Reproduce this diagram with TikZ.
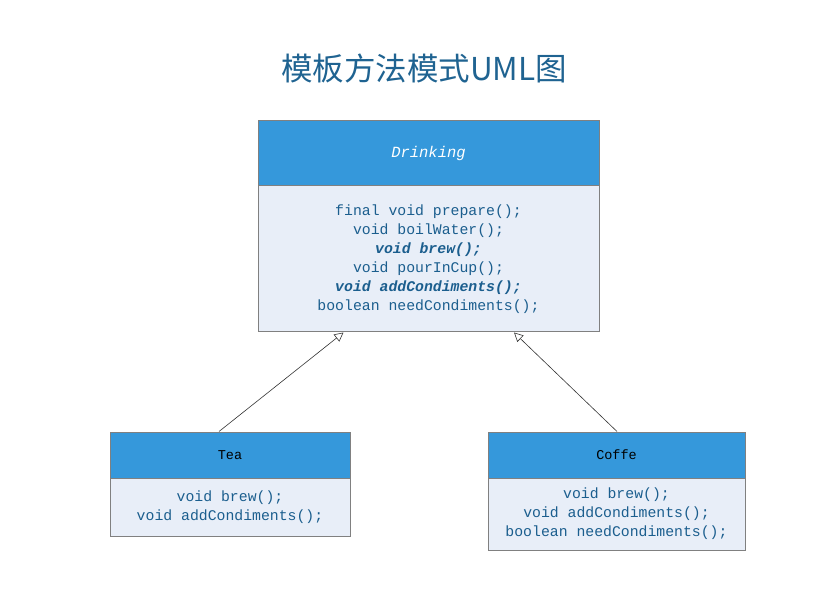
\documentclass[tikz,border=0pt]{standalone}
\usepackage{fontspec}
\setmonofont{Liberation Mono}
\newfontfamily\cjk{Noto Sans CJK SC}
\usetikzlibrary{arrows.meta}
\definecolor{headblue}{HTML}{3598DB}
\definecolor{bodyblue}{HTML}{E8EEF8}
\definecolor{textblue}{HTML}{1B5E8E}
\definecolor{titleblue}{HTML}{1F6391}
\definecolor{edge}{HTML}{808080}
\tikzset{
  classhead/.style={draw=edge, line width=1pt, fill=headblue, inner sep=0pt,
    font=\ttfamily\fontsize{13.5}{15}\selectfont},
  classbody/.style={draw=edge, line width=1pt, fill=bodyblue, inner sep=0pt, align=center,
    text=textblue, font=\ttfamily\fontsize{14.8}{19}\selectfont},
  inherit/.style={draw=black!80, line width=0.6pt, -{Triangle[open,length=9pt,width=9pt]}},
}
\newcommand{\abstr}[1]{\textbf{\textit{#1}}}
\begin{document}
\begin{tikzpicture}[x=1pt,y=1pt]
\useasboundingbox (0,0) rectangle (835,-593);
\node[text=titleblue, font=\cjk\fontsize{31.5}{34}\selectfont] (title) at (424,-68) {模板方法模式UML图};
\node[classhead, minimum width=341pt, minimum height=65pt, text=white, font=\ttfamily\fontsize{15.5}{17}\selectfont] (drinkhead) at (428.5,-153.5) {\textit{Drinking}};
\node[classbody, minimum width=341pt, minimum height=146pt] (drinkbody) at (428.5,-259) {final void prepare();\\void boilWater();\\\abstr{void brew();}\\void pourInCup();\\\abstr{void addCondiments();}\\boolean needCondiments();};
\node[classhead, minimum width=240pt, minimum height=46pt] (teahead) at (230,-455) {Tea};
\node[classbody, minimum width=240pt, minimum height=58pt] (teabody) at (230,-507) {void brew();\\void addCondiments();};
\node[classhead, minimum width=257pt, minimum height=46pt] (coffehead) at (616.5,-455) {Coffe};
\node[classbody, minimum width=257pt, minimum height=72pt] (coffebody) at (616.5,-514) {void brew();\\void addCondiments();\\boolean needCondiments();};
\draw[inherit] ([xshift=-11pt]teahead.north) -- ([xshift=-85pt]drinkbody.south);
\draw[inherit] ([xshift=0.5pt]coffehead.north) -- ([xshift=85.5pt]drinkbody.south);
\end{tikzpicture}
\end{document}
